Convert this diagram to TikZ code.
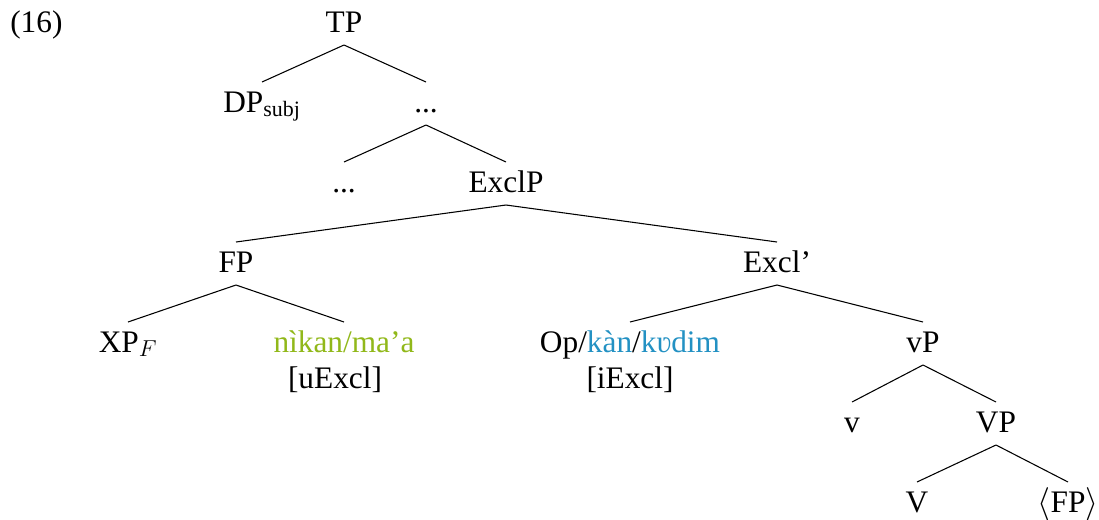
\documentclass[tikz,border=0pt]{standalone}
\usepackage{fontspec}
\setmainfont{Liberation Serif}
\usetikzlibrary{calc}
\definecolor{lexgreen}{RGB}{145,184,26}
\definecolor{lexblue}{RGB}{35,145,195}
\begin{document}
\begin{tikzpicture}[x=0.75pt,y=-0.75pt,
  lbl/.style={inner sep=0pt,anchor=base,font=\fontsize{23.5}{28}\selectfont},
  br/.style={line width=0.8pt}]
\useasboundingbox (0,0) rectangle (1099,519);
\node[lbl,anchor=base west] (ex) at (10,32) {(16)};
\node[lbl] (TP) at (344,32) {TP};
\node[lbl] (DP) at (262,112) {DP\textsubscript{subj}};
\node[lbl] (d1) at (426,112) {...};
\node[lbl] (d2) at (344,192) {...};
\node[lbl] (ExclP) at (506,192) {ExclP};
\node[lbl] (FP) at (236,272) {FP};
\node[lbl] (Exclb) at (777,272) {Excl’};
\node[lbl] (XP) at (128,352) {XP\textsubscript{$F$}};
\node[lbl,text=lexgreen] (nik) at (344,352) {nìkan/ma’a};
\node[lbl] (uE) at (335,388) {[uExcl]};
\node[lbl] (Op) at (630,352) {Op/\textcolor{lexblue}{kàn}/\textcolor{lexblue}{kʋdim}};
\node[lbl] (iE) at (630,388) {[iExcl]};
\node[lbl] (vP) at (923,352) {vP};
\node[lbl] (v) at (852,432) {v};
\node[lbl] (VP) at (996,432) {VP};
\node[lbl] (V) at (917,512) {V};
\node[lbl] (tFP) at (1068,512) {$\langle$FP$\rangle$};
\foreach \p/\c in {TP/DP,TP/d1,d1/d2,d1/ExclP,ExclP/FP,ExclP/Exclb,FP/XP,FP/nik,Exclb/Op,Exclb/vP,vP/v,vP/VP,VP/V,VP/tFP}
  \draw[br] ($(\p.base)+(0,13)$) -- ($(\c.base)+(0,-30)$);
\end{tikzpicture}
\end{document}
